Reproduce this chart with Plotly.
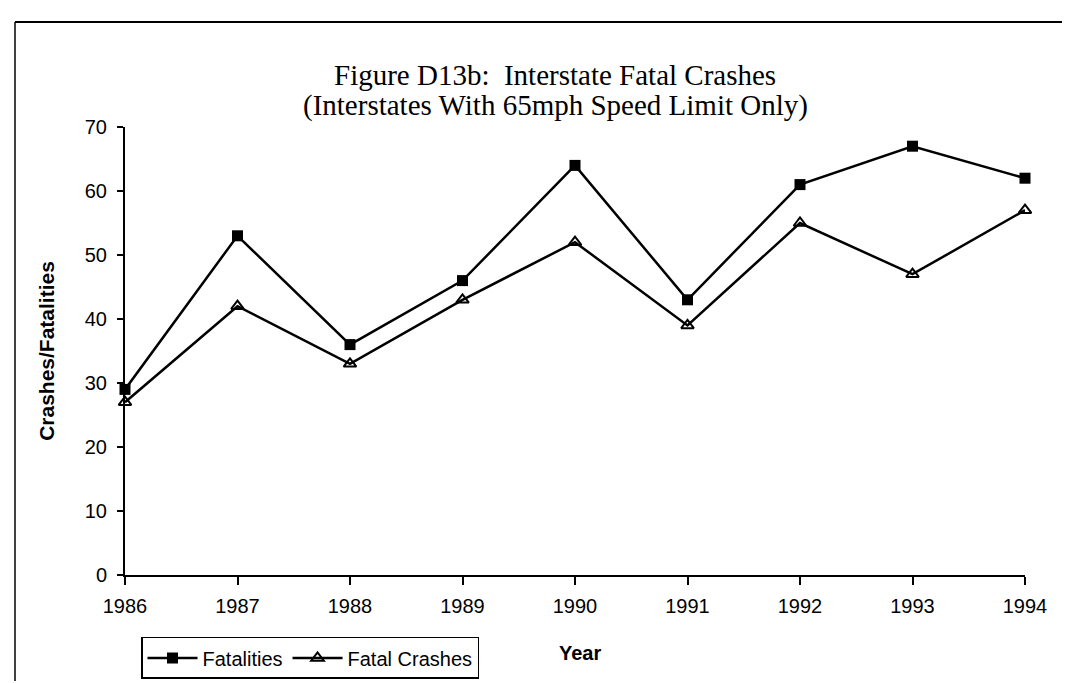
import plotly.graph_objects as go

years = [1986, 1987, 1988, 1989, 1990, 1991, 1992, 1993, 1994]
fatalities = [29, 53, 36, 46, 64, 43, 61, 67, 62]
fatal_crashes = [27, 42, 33, 43, 52, 39, 55, 47, 57]
y_ticks = [0, 10, 20, 30, 40, 50, 60, 70]

title_line1 = "Figure D13b:  Interstate Fatal Crashes"
title_line2 = "(Interstates With 65mph Speed Limit Only)"

W, H = 1070, 683
L, R, T, B = 117, 53, 119, 108
pw, ph = W - L - R, H - T - B

SANS = "Liberation Sans, Arial, sans-serif"
SERIF = "Liberation Serif, Times New Roman, serif"

def px(xp):
    return (xp - L) / pw

def py(yp):
    return (H - B - yp) / ph

fig = go.Figure()
fig.add_trace(go.Scatter(
    x=years, y=fatalities, name="Fatalities", mode="lines+markers",
    line=dict(color="black", width=2.5),
    marker=dict(symbol="square", size=11, color="black"),
    cliponaxis=False,
))
fig.add_trace(go.Scatter(
    x=years, y=fatal_crashes, name="Fatal Crashes", mode="lines+markers",
    line=dict(color="black", width=2.5),
    marker=dict(symbol="triangle-up-open", size=11, color="black",
                line=dict(color="black", width=2)),
    cliponaxis=False,
))

fig.update_layout(
    width=W, height=H,
    margin=dict(l=L, r=R, t=T, b=B),
    paper_bgcolor="white", plot_bgcolor="white",
    font=dict(family=SANS, size=20, color="black"),
    showlegend=True,
    legend=dict(
        orientation="h", x=px(133), y=py(638), xanchor="left", yanchor="top",
        bordercolor="black", borderwidth=1.5, bgcolor="white",
        font=dict(family=SANS, size=20),
        itemwidth=50, tracegroupgap=0,
    ),
    xaxis=dict(
        range=[1986, 1994], tickvals=years, ticktext=[str(y) for y in years],
        showgrid=False, zeroline=False, showline=True, linecolor="black", linewidth=2,
        ticks="outside", ticklen=8, tickwidth=1.5, tickcolor="black",
        tickfont=dict(size=20), ticklabelstandoff=4,
    ),
    yaxis=dict(
        range=[0, 70], tickvals=y_ticks,
        showgrid=False, zeroline=False, showline=True, linecolor="black", linewidth=2,
        ticks="outside", ticklen=6, tickwidth=1.5, tickcolor="black",
        ticklabelstandoff=6,
        title=dict(text="<b>Crashes/Fatalities</b>", standoff=24,
                   font=dict(family=SANS, size=21)),
        tickfont=dict(size=20),
    ),
)

# two-line title
fig.add_annotation(text=title_line1, xref="paper", yref="paper",
                   x=px(547), y=py(66), xanchor="center", yanchor="middle",
                   showarrow=False, font=dict(family=SERIF, size=29, color="black"))
fig.add_annotation(text=title_line2, xref="paper", yref="paper",
                   x=px(547), y=py(97), xanchor="center", yanchor="middle",
                   showarrow=False, font=dict(family=SERIF, size=29, color="black"))
# x axis title
fig.add_annotation(text="<b>Year</b>", xref="paper", yref="paper",
                   x=px(572), y=py(654), xanchor="center", yanchor="middle",
                   showarrow=False, font=dict(family=SANS, size=20, color="black"))

# outer frame of the original figure (top and left edges)
fig.add_shape(type="line", xref="paper", yref="paper",
              x0=px(7), x1=px(W), y0=py(12), y1=py(12),
              line=dict(color="black", width=2))
fig.add_shape(type="line", xref="paper", yref="paper",
              x0=px(7), x1=px(7), y0=py(12), y1=py(H),
              line=dict(color="black", width=1.5))

fig.write_html("out.html")
